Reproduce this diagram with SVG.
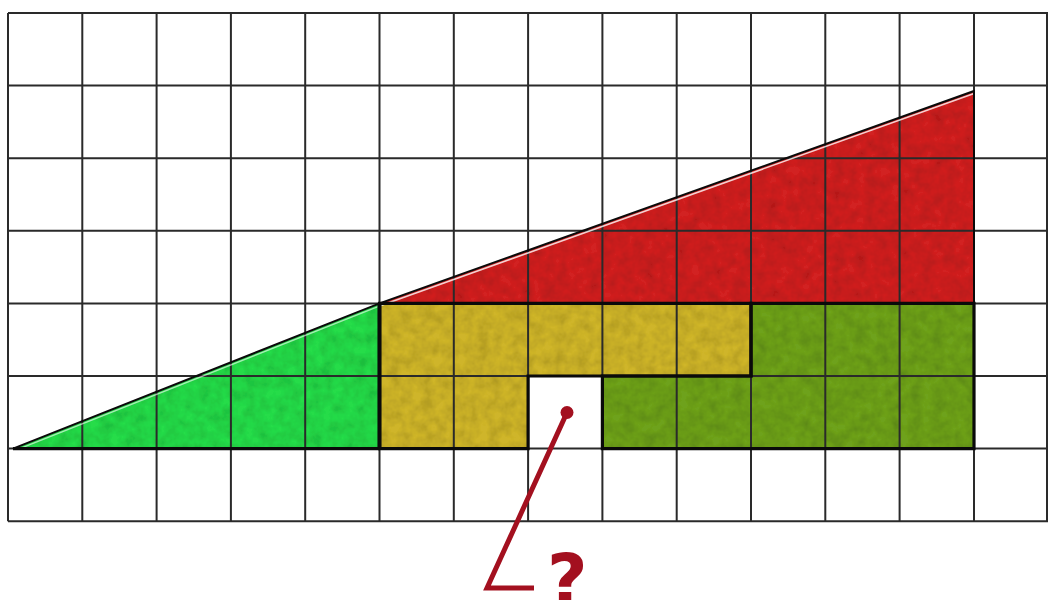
<svg xmlns="http://www.w3.org/2000/svg" width="1048" height="600" viewBox="0 0 1048 600">
<defs>
<filter id="tex" x="0" y="0" width="1" height="1">
<feTurbulence type="fractalNoise" baseFrequency="0.09" numOctaves="3" seed="4" result="n"/>
<feColorMatrix in="n" type="matrix" values="0 0 0 0 0  0 0 0 0 0  0 0 0 0 0  0 0 0 0.5 -0.15" result="d"/>
<feComposite in="d" in2="SourceGraphic" operator="in" result="d2"/>
<feMerge><feMergeNode in="SourceGraphic"/><feMergeNode in="d2"/></feMerge>
</filter>
<style>
.grid{fill:none;stroke:#2a2a2a;stroke-width:2}
.outline{fill:none;stroke:#0a0a0a;stroke-width:3.2;stroke-linejoin:miter}
.ptr{fill:none;stroke:#a3101f;stroke-width:5;stroke-linejoin:miter}
.q{font-family:"DejaVu Sans",sans-serif;font-weight:bold;font-size:70px;fill:#a3101f}
</style>
</defs>
<rect width="1048" height="600" fill="#ffffff"/>
<g id="red-triangle">
<polygon points="379.5,303.4 974,91 974,303.4" fill="#d22222" filter="url(#tex)"/>
</g>
<g id="green-triangle">
<polygon points="13,448.6 379.5,303.4 379.5,448.6" fill="#28dc48" filter="url(#tex)"/>
</g>
<g id="yellow-piece">
<polygon points="379.5,303.4 751,303.4 751,376 528.1,376 528.1,448.6 379.5,448.6" fill="#cfb52a" filter="url(#tex)"/>
</g>
<g id="olive-piece">
<polygon points="751,303.4 974,303.4 974,448.6 602.4,448.6 602.4,376 751,376" fill="#6ea21f" filter="url(#tex)"/>
</g>
<g id="grid">
<path class="grid" d="M8,13V521.2 M82.3,13V521.2 M156.6,13V521.2 M230.9,13V521.2 M305.2,13V521.2 M379.5,13V521.2 M453.8,13V521.2 M528.1,13V521.2 M602.4,13V521.2 M676.7,13V521.2 M751,13V521.2 M825.3,13V521.2 M899.6,13V521.2 M974,13V521.2 M1047,13V521.2 M8,13H1048 M8,85.6H1048 M8,158.2H1048 M8,230.8H1048 M8,303.4H1048 M8,376H1048 M8,448.6H1048 M8,521.2H1048"/>
</g>
<g id="outlines">
<line x1="381" y1="305.6" x2="974" y2="93.4" stroke="#ffffff" stroke-width="1.6" opacity="0.8"/>
<line x1="16" y1="450.2" x2="378" y2="306.6" stroke="#ffffff" stroke-width="1.4" opacity="0.6"/>
<polygon class="outline" points="379.5,303.4 974,91 974,303.4" style="stroke-width:2"/>
<polygon class="outline" points="13,448.6 379.5,303.4 379.5,448.6" style="stroke-width:2"/>
<polygon class="outline" points="379.5,303.4 751,303.4 751,376 528.1,376 528.1,448.6 379.5,448.6"/>
<polygon class="outline" points="751,303.4 974,303.4 974,448.6 602.4,448.6 602.4,376 751,376"/>
<line x1="13" y1="448.6" x2="379.5" y2="448.6" stroke="#0a0a0a" stroke-width="3.2"/>
<line x1="379.5" y1="303.4" x2="379.5" y2="448.6" stroke="#0a0a0a" stroke-width="4"/>
</g>
<g id="connectors">
<polyline class="ptr" points="567,412.5 487,588 534,588"/>
<circle cx="567" cy="412.5" r="6.5" fill="#a3101f"/>
</g>
<g id="label">
<text class="q" x="547" y="604">?</text>
</g>
</svg>
